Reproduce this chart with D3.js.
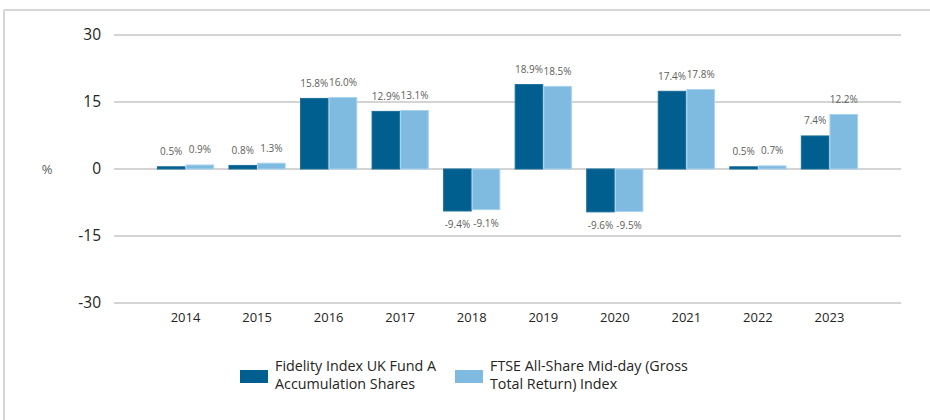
<!DOCTYPE html>
<html>
<head>
<meta charset="utf-8">
<script src="https://cdn.jsdelivr.net/npm/d3@7"></script>
<style>
  body { margin: 0; background: #fff; }
  svg { display: block; }
</style>
</head>
<body>
<div id="chart"></div>
<script>
// data
var years = ["2014", "2015", "2016", "2017", "2018", "2019", "2020", "2021", "2022", "2023"];
var fundReturns = [0.5, 0.8, 15.8, 12.9, -9.4, 18.9, -9.6, 17.4, 0.5, 7.4];
var indexReturns = [0.9, 1.3, 16.0, 13.1, -9.1, 18.5, -9.5, 17.8, 0.7, 12.2];
var yTicks = [-30, -15, 0, 15, 30];
var seriesNames = [
  ["Fidelity Index UK Fund A", "Accumulation Shares"],
  ["FTSE All-Share Mid-day (Gross", "Total Return) Index"]
];

var width = 930, height = 420;
var colors = ["#005f8e", "#7fbae0"];
var strokes = ["#1a6f99", "#a9d3ee"];

var svg = d3.select("#chart")
  .append("svg")
  .attr("width", width)
  .attr("height", height);

// card frame (top + left edge only visible)
svg.append("line")
  .attr("x1", 4).attr("x2", width).attr("y1", 10).attr("y2", 10)
  .attr("stroke", "#d6d6d6").attr("stroke-width", 2);
svg.append("line")
  .attr("x1", 4).attr("x2", 4).attr("y1", 10).attr("y2", height)
  .attr("stroke", "#d6d6d6").attr("stroke-width", 2);

var plotLeft = 114, plotRight = 901;

var yScale = d3.scaleLinear().domain([-30, 30]).range([303, 35]);

var x0Scale = d3.scaleBand()
  .domain(years)
  .range([plotLeft, plotRight])
  .paddingInner(0.2)
  .paddingOuter(0.6);

var x1Scale = d3.scaleBand()
  .domain([0, 1])
  .range([0, x0Scale.bandwidth()]);

// gridlines
svg.append("g")
  .selectAll("line")
  .data(yTicks)
  .join("line")
  .attr("x1", plotLeft)
  .attr("x2", plotRight)
  .attr("y1", d => yScale(d))
  .attr("y2", d => yScale(d))
  .attr("stroke", "#d4d4d4")
  .attr("stroke-width", 2);

// y axis
var yAxis = svg.append("g")
  .attr("transform", "translate(" + 101 + ",0)")
  .call(d3.axisLeft(yScale).tickValues(yTicks).tickSize(0).tickPadding(0)
    .tickFormat(d => String(d)));
yAxis.select(".domain").remove();
yAxis.selectAll("text")
  .attr("font-family", "'Open Sans', sans-serif")
  .attr("font-size", 15.5)
  .attr("fill", "#252423");

svg.append("text")
  .attr("x", 47)
  .attr("y", yScale(0))
  .attr("dy", "0.35em")
  .attr("text-anchor", "middle")
  .attr("font-family", "'Open Sans', sans-serif")
  .attr("font-size", 13)
  .attr("fill", "#605e5c")
  .text("%");

// x axis
var xAxis = svg.append("g")
  .attr("transform", "translate(0," + 313 + ")")
  .call(d3.axisBottom(x0Scale).tickSize(0).tickPadding(0));
xAxis.select(".domain").remove();
xAxis.selectAll("text")
  .attr("font-family", "'Open Sans', sans-serif")
  .attr("font-size", 13)
  .attr("fill", "#252423");

// bars
var rows = years.map(function (y, i) {
  return { year: y, values: [fundReturns[i], indexReturns[i]] };
});

var groups = svg.append("g")
  .selectAll("g")
  .data(rows)
  .join("g")
  .attr("transform", d => "translate(" + x0Scale(d.year) + ",0)");

groups.selectAll("rect")
  .data(d => d.values.map((v, k) => ({ k: k, v: v })))
  .join("rect")
  .attr("x", d => x1Scale(d.k) + 0.5)
  .attr("y", d => yScale(Math.max(0, d.v)))
  .attr("width", x1Scale.bandwidth() - 1)
  .attr("height", d => Math.abs(yScale(d.v) - yScale(0)))
  .attr("fill", d => colors[d.k])
  .attr("stroke", d => strokes[d.k])
  .attr("stroke-width", 1);

groups.selectAll("text")
  .data(d => d.values.map((v, k) => ({ k: k, v: v })))
  .join("text")
  .attr("x", d => x1Scale(d.k) + x1Scale.bandwidth() / 2)
  .attr("y", d => d.v >= 0 ? yScale(d.v) - 15 : yScale(d.v) + 14)
  .attr("dy", "0.35em")
  .attr("text-anchor", "middle")
  .attr("font-family", "'Open Sans', sans-serif")
  .attr("font-size", 10)
  .attr("fill", "#605e5c")
  .text(d => d.v.toFixed(1) + "%");

// legend
var legendX = [240, 455];
var legend = svg.append("g")
  .selectAll("g")
  .data(seriesNames)
  .join("g")
  .attr("transform", (d, i) => "translate(" + legendX[i] + ",0)");

legend.append("rect")
  .attr("x", 0)
  .attr("y", 370)
  .attr("width", 28)
  .attr("height", 13)
  .attr("fill", (d, i) => colors[i]);

legend.each(function (d) {
  var t = d3.select(this).append("text")
    .attr("font-family", "'Open Sans', sans-serif")
    .attr("font-size", 14.3)
    .attr("fill", "#252423");
  d.forEach(function (line, j) {
    t.append("tspan")
      .attr("x", 35)
      .attr("y", 366 + j * 18)
      .attr("dy", "0.35em")
      .text(line);
  });
});
</script>
</body>
</html>
